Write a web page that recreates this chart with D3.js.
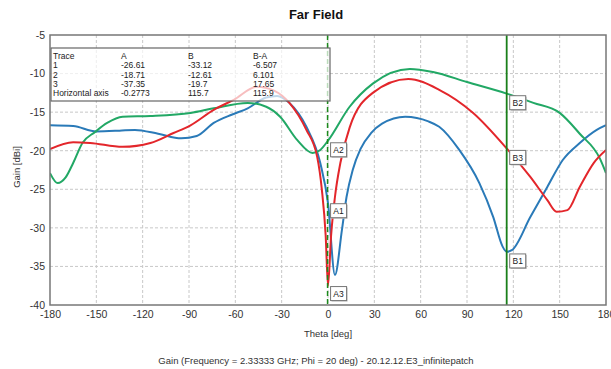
<!DOCTYPE html>
<html lang="en">
<head>
<meta charset="utf-8">
<title>Far Field</title>
<script src="https://cdn.jsdelivr.net/npm/d3@7"></script>
<style>
  body { margin: 0; background: #fff; }
  svg { font-family: "Liberation Sans", Arial, sans-serif; }
  .grid line { stroke: #c8c8c8; stroke-dasharray: 3,2; }
  .axis text { font-size: 10.5px; fill: #333; }
  .axis path, .axis line { display: none; }
</style>
</head>
<body>
<div id="chart"></div>
<script>
// trace 1 (blue)
const theta1 = [-180,-165,-150,-135,-125,-110,-95,-85,-74,-62,-52,-40,-33,-25,-14,-5,0,4.5,9,12,16,21,28,35,50,65,72,85,98,107,113,115.7,119,131,142,152,163,174,180];
const gain1  = [-16.7,-16.8,-17.5,-17.4,-17.3,-17.8,-18.4,-18.1,-16.4,-15.3,-14.5,-13.1,-12.9,-13.8,-16.9,-21.6,-26.8,-36.1,-30.3,-26,-22.5,-19.8,-17.7,-16.5,-15.6,-16.2,-16.9,-19.9,-24.2,-28.6,-32.4,-33.1,-32.9,-28.6,-24.7,-21.2,-19.0,-17.3,-16.7];
// trace 2 (green)
const theta2 = [-180,-175,-170,-165,-159,-151,-143,-133,-115,-89,-74,-52,-40,-31,-20,-10,-5,0,14,29,53,68,90,115.7,133,150,163,176,180];
const gain2  = [-22.9,-24.2,-23.5,-21.6,-19.0,-17.6,-16.4,-15.6,-15.5,-15.1,-14.5,-13.8,-14.3,-15.6,-18.6,-20.3,-19.9,-18.7,-14.3,-11.3,-9.4,-9.8,-11.1,-12.6,-13.8,-15.1,-17.8,-21.0,-22.9];
// trace 3 (red)
const theta3 = [-180,-165,-154,-133,-115,-100,-89,-74,-61,-46,-35,-25,-14,-7,-4,-1.5,0,2,4.5,8,14,29,52,72,94,115.7,131,142,148,155,163,172,180];
const gain3  = [-19.8,-18.9,-19.0,-19.5,-19.0,-17.7,-16.7,-14.7,-13.4,-11.7,-12.2,-13.8,-17.3,-20.8,-25,-31,-37.5,-31,-26,-21.6,-17.0,-12.5,-10.7,-12.1,-15.1,-19.7,-23.4,-26.4,-27.9,-27.7,-24.7,-21.6,-19.9];

const traceColors = ["#2a7ab8", "#22a865", "#e3262b"];
const xTicks = [-180,-150,-120,-90,-60,-30,0,30,60,90,120,150,180];
const yTicks = [-5,-10,-15,-20,-25,-30,-35,-40];

// marker table
const markerA = -0.2773, markerB = 115.7;
const tableHead = ["Trace", "A", "B", "B-A"];
const tableRows = [
  ["1", "-26.61", "-33.12", "-6.507"],
  ["2", "-18.71", "-12.61", "6.101"],
  ["3", "-37.35", "-19.7", "17.65"],
  ["Horizontal axis", "-0.2773", "115.7", "115.9"]
];
const valuesA = [-26.61, -18.71, -37.35];
const valuesB = [-33.12, -12.61, -19.7];

const width = 611, height = 369;
const pLeft = 50, pRight = 606, pTop = 35, pBottom = 305;

const svg = d3.select("#chart").append("svg")
  .attr("width", width).attr("height", height);

const x = d3.scaleLinear().domain([-180, 180]).range([pLeft, pRight]);
const y = d3.scaleLinear().domain([-40, -5]).range([pBottom, pTop]);

svg.append("text").attr("x", 316).attr("y", 19).attr("text-anchor", "middle")
  .attr("font-size", 13).attr("font-weight", "bold").attr("fill", "#111").text("Far Field");

// grid
const grid = svg.append("g").attr("class", "grid");
grid.selectAll(".vx").data(xTicks.slice(1, -1)).join("line")
  .attr("x1", d => x(d)).attr("x2", d => x(d)).attr("y1", pTop).attr("y2", pBottom);
grid.selectAll(".hy").data(yTicks.slice(1, -1)).join("line")
  .attr("x1", pLeft).attr("x2", pRight).attr("y1", d => y(d)).attr("y2", d => y(d));

// axes
svg.append("g").attr("class", "axis").attr("transform", `translate(0,${pBottom})`)
  .call(d3.axisBottom(x).tickValues(xTicks).tickFormat(d => String(d)).tickSize(0).tickPadding(6));
svg.append("g").attr("class", "axis").attr("transform", `translate(${pLeft},0)`)
  .call(d3.axisLeft(y).tickValues(yTicks).tickFormat(d => String(d)).tickSize(0).tickPadding(5));

svg.append("text").attr("x", 328).attr("y", 337).attr("text-anchor", "middle")
  .attr("font-size", 9.5).attr("fill", "#333").text("Theta [deg]");
svg.append("text").attr("transform", "translate(20,167) rotate(-90)")
  .attr("text-anchor", "middle").attr("font-size", 9.5).attr("fill", "#333").text("Gain [dBi]");
svg.append("text").attr("x", 316).attr("y", 364).attr("text-anchor", "middle")
  .attr("font-size", 9.5).attr("fill", "#333")
  .text("Gain (Frequency = 2.33333 GHz; Phi = 20 deg) - 20.12.12.E3_infinitepatch");

// curves
const line = d3.line().x(d => x(d[0])).y(d => y(d[1])).curve(d3.curveMonotoneX);
const traces = [d3.zip(theta1, gain1), d3.zip(theta2, gain2), d3.zip(theta3, gain3)];
svg.append("clipPath").attr("id", "clip").append("rect")
  .attr("x", pLeft).attr("y", pTop).attr("width", pRight - pLeft).attr("height", pBottom - pTop);
svg.append("g").attr("clip-path", "url(#clip)").selectAll("path").data(traces).join("path")
  .attr("d", line).attr("fill", "none")
  .attr("stroke", (d, i) => traceColors[i]).attr("stroke-width", 2);

// marker lines
svg.append("line").attr("x1", x(markerA)).attr("x2", x(markerA)).attr("y1", pTop).attr("y2", pBottom)
  .attr("stroke", "#1c8a1c").attr("stroke-width", 1.5).attr("stroke-dasharray", "5,3");
svg.append("line").attr("x1", x(markerB)).attr("x2", x(markerB)).attr("y1", pTop).attr("y2", pBottom)
  .attr("stroke", "#1a7f1a").attr("stroke-width", 1.8);

// marker labels
function markerBox(th, val, label) {
  const g = svg.append("g").attr("transform", `translate(${x(th) + 3},${y(val) + 2})`);
  g.append("rect").attr("x", 1).attr("y", 1).attr("width", 16).attr("height", 14).attr("fill", "#bbb");
  g.append("rect").attr("width", 16).attr("height", 14).attr("fill", "#fff").attr("stroke", "#777");
  g.append("text").attr("x", 8).attr("y", 10.5).attr("text-anchor", "middle")
    .attr("font-size", 8.5).attr("fill", "#222").text(label);
}
valuesA.forEach((v, i) => markerBox(markerA, v, "A" + (i + 1)));
valuesB.forEach((v, i) => markerBox(markerB, v, "B" + (i + 1)));

// table
svg.append("rect").attr("x", pLeft + 1).attr("y", 48).attr("width", 279).attr("height", 53)
  .attr("fill", "#fff").attr("fill-opacity", 0.7).attr("stroke", "#666").attr("stroke-width", 1.2);
const colX = [53, 121, 188, 253];
[tableHead, ...tableRows].forEach((row, r) => {
  row.forEach((c, k) => {
    svg.append("text").attr("x", colX[k]).attr("y", 59 + r * 9.3)
      .attr("font-size", 8.5).attr("fill", "#222").text(c);
  });
});

// plot frame
svg.append("rect").attr("x", pLeft).attr("y", pTop).attr("width", pRight - pLeft).attr("height", pBottom - pTop)
  .attr("fill", "none").attr("stroke", "#777").attr("stroke-width", 1.5);
</script>
</body>
</html>
